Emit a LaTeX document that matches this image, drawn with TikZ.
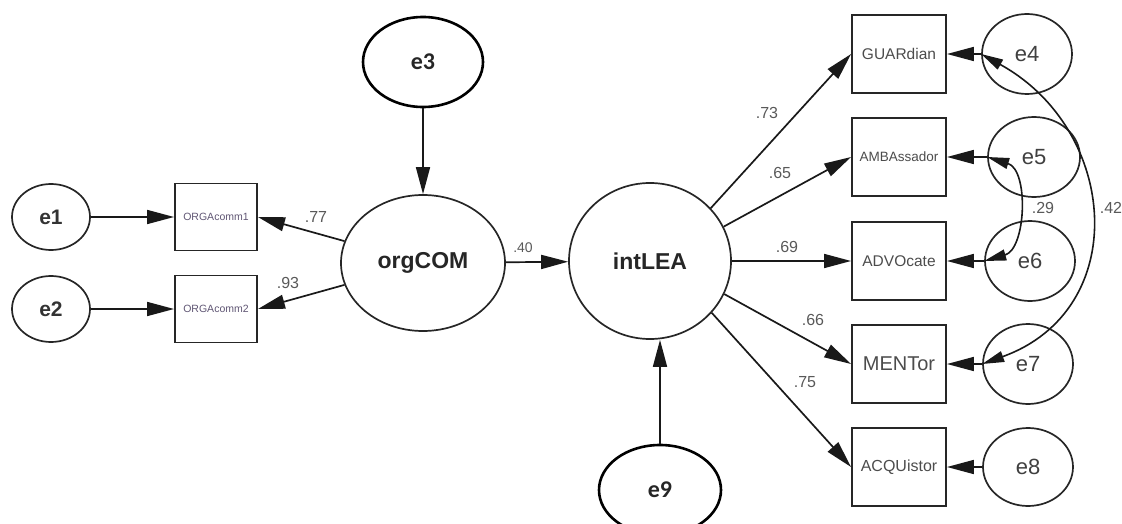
\documentclass[tikz,border=0pt]{standalone}
\usepackage{fontspec}
\setmainfont{Liberation Sans}
\newfontfamily\calib{Carlito}
\usetikzlibrary{shapes.geometric,arrows.meta}
\begin{document}
\begin{tikzpicture}[x=1pt,y=-1pt,
  lat/.style={ellipse,draw=black!85,line width=1.7pt,inner sep=0pt,text=black!85,font=\fontsize{23}{23}\selectfont\bfseries},
  errl/.style={ellipse,draw=black!85,line width=1.7pt,inner sep=0pt,minimum width=78pt,minimum height=66pt,text=black!80,font=\fontsize{21}{21}\selectfont\bfseries},
  errr/.style={ellipse,draw=black!85,line width=1.7pt,inner sep=0pt,minimum width=90pt,minimum height=80pt,text=black!75,font=\fontsize{22}{22}\selectfont},
  errb/.style={ellipse,draw=black,line width=2.6pt,inner sep=0pt,minimum width=120pt,minimum height=90pt,text=black!85,font=\fontsize{24}{24}\calib\bfseries},
  obs/.style={rectangle,draw=black!85,line width=1.9pt,minimum width=94pt,minimum height=78pt,inner sep=0pt,text=black!70},
  obsl/.style={rectangle,draw=black!85,line width=1.9pt,minimum width=82pt,minimum height=67pt,inner sep=0pt,text={rgb,255:red,95;green,85;blue,115},font=\fontsize{10.5}{10.5}\selectfont},
  reg/.style={-{Triangle[length=27pt,width=14pt]},line width=1.7pt,draw=black!90},
  cov/.style={{Triangle[length=22pt,width=11pt]}-{Triangle[length=22pt,width=11pt]},line width=1.6pt,draw=black!90},
  coef/.style={text=black!65,font=\fontsize{16}{16}\selectfont,inner sep=0pt}]
\useasboundingbox (0,0) rectangle (1122,524);
% left
\node[errl] (e1) at (51,217) {e1};
\node[errl] (e2) at (51,309) {e2};
\node[obsl] (b1) at (216,217) {ORGAcomm1};
\node[obsl] (b2) at (216,309) {ORGAcomm2};
\node[lat,minimum width=164pt,minimum height=136pt] (orgCOM) at (423,263) {orgCOM};
\node[errb] (e3) at (423,62) {e3};
\node[lat,minimum width=162pt,minimum height=156pt] (intLEA) at (650,261) {intLEA};
\node[errb,minimum width=122pt] (e9) at (660,490) {e9};
% right boxes
\node[obs,font=\fontsize{15.5}{15.5}\selectfont] (gua) at (899,54) {GUARdian};
\node[obs,font=\fontsize{13.5}{13.5}\selectfont] (amb) at (899,157) {AMBAssador};
\node[obs,font=\fontsize{15.5}{15.5}\selectfont] (adv) at (899,261) {ADVOcate};
\node[obs,font=\fontsize{20}{20}\selectfont] (men) at (899,364) {MENTor};
\node[obs,font=\fontsize{16}{16}\selectfont] (acq) at (899,467) {ACQUistor};
% right errors
\node[errr] (e4) at (1027,54) {e4};
\node[errr,minimum width=92pt] (e5) at (1034,157) {e5};
\node[errr] (e6) at (1030,261) {e6};
\node[errr] (e7) at (1028,364) {e7};
\node[errr,minimum width=90pt,minimum height=78pt] (e8) at (1028,467) {e8};
% regression paths
\draw[reg] (e1) -- (b1);
\draw[reg] (e2) -- (b2);
\draw[reg] (orgCOM) -- (b1.east);
\draw[reg] (orgCOM) -- (b2.east);
\draw[reg] (e3) -- (orgCOM);
\draw[reg] (orgCOM) -- (intLEA);
\draw[reg] (e9.north) -- (e9.north |- intLEA.south);
\draw[reg] (intLEA.41) -- (gua.west);
\draw[reg] (intLEA.25) -- (amb.west);
\draw[reg] (intLEA) -- (adv.west);
\draw[reg] (intLEA.-24) -- (men.west);
\draw[reg] (intLEA.-40) -- (acq.west);
\draw[reg] (e4.west) -- (gua.east);
\draw[reg] (e5.west) -- (amb.east);
\draw[reg] (e6.west) -- (adv.east);
\draw[reg] (e7.west) -- (men.east);
\draw[reg] (e8.west) -- (acq.east);
% covariances
\draw[cov] (e5.west) .. controls +(42,13) and +(42,-12) .. (e6.west);
\draw[cov] (e4.west) .. controls +(138,76) and +(150,-54) .. (e7.west);
% coefficients
\node[coef] (c77) at (316,217) {.77};
\node[coef] (c93) at (288,283) {.93};
\node[coef,font=\fontsize{14}{14}\selectfont] (c40) at (523,248) {.40};
\node[coef] (c73) at (767,113) {.73};
\node[coef] (c65) at (780,173) {.65};
\node[coef] (c69) at (787,247) {.69};
\node[coef] (c66) at (813,320) {.66};
\node[coef] (c75) at (805,382) {.75};
\node[coef] (c29) at (1043,208) {.29};
\node[coef] (c42) at (1111,208) {.42};
\end{tikzpicture}
\end{document}
